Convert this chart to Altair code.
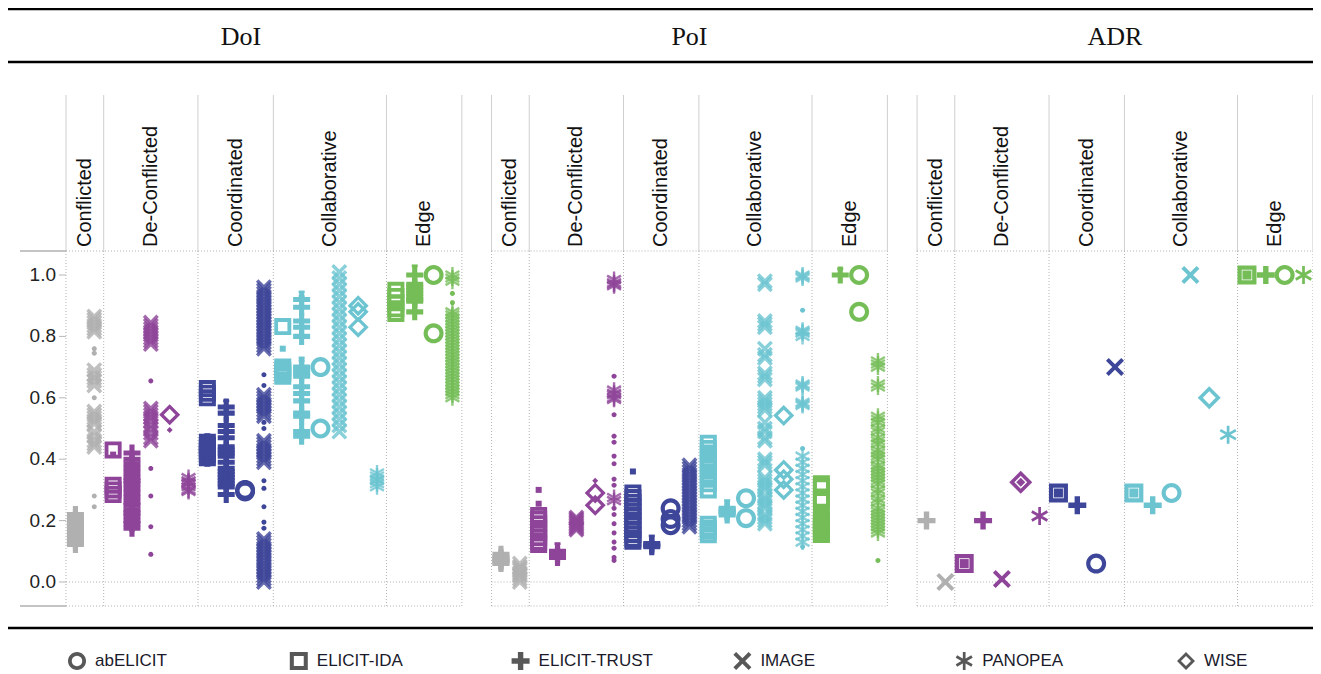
import math
import altair as alt
import pandas as pd

# ---------------- categories / methods ----------------
PANELS = ["DoI", "PoI", "ADR"]
CATEGORIES = ["Conflicted", "De-Conflicted", "Coordinated", "Collaborative", "Edge"]
CAT_METHODS = {
    "Conflicted": ["ELICIT-TRUST", "IMAGE"],
    "De-Conflicted": ["ELICIT-IDA", "ELICIT-TRUST", "IMAGE", "WISE", "PANOPEA"],
    "Coordinated": ["ELICIT-IDA", "ELICIT-TRUST", "abELICIT", "IMAGE"],
    "Collaborative": ["ELICIT-IDA", "ELICIT-TRUST", "abELICIT", "IMAGE", "WISE", "PANOPEA"],
    "Edge": ["ELICIT-IDA", "ELICIT-TRUST", "abELICIT", "PANOPEA"],
}
LEGEND_METHODS = ["abELICIT", "ELICIT-IDA", "ELICIT-TRUST", "IMAGE", "PANOPEA", "WISE"]
CAT_COLORS = ["#b0b0b0", "#8e4599", "#3e4699", "#6cc4d1", "#74bd57"]
Y_TICKS = [0.0, 0.2, 0.4, 0.6, 0.8, 1.0]

# ---------------- DoI values ----------------
DOI_CONFLICTED = {
    "ELICIT-TRUST": [0.22, 0.21, 0.20, 0.19, 0.18, 0.17, 0.16, 0.15, 0.14, 0.13, 0.122],
    "IMAGE": [0.865, 0.855, 0.845, 0.835, 0.825, 0.815, 0.69, 0.675, 0.665, 0.655, 0.64,
              0.555, 0.545, 0.535, 0.525, 0.515, 0.49, 0.475, 0.46, 0.45, 0.44],
}
DOI_CONFLICTED_SMALL = {"IMAGE": [0.76, 0.745, 0.60, 0.28, 0.245]}
DOI_DECONFLICTED = {
    "ELICIT-IDA": [0.43, 0.315, 0.30, 0.285],
    "ELICIT-TRUST": [0.42, 0.40, 0.385, 0.37, 0.355, 0.34, 0.33, 0.32, 0.305, 0.29, 0.275,
                     0.26, 0.25, 0.235, 0.225, 0.215, 0.20, 0.19, 0.175],
    "IMAGE": [0.845, 0.835, 0.825, 0.815, 0.805, 0.795, 0.785, 0.775, 0.565, 0.555, 0.545,
              0.535, 0.525, 0.51, 0.50, 0.485, 0.47, 0.46],
    "WISE": [0.545],
    "PANOPEA": [0.34, 0.33, 0.325, 0.32, 0.31, 0.30, 0.295],
}
DOI_DECONFLICTED_SMALL = {"ELICIT-IDA": [0.415], "IMAGE": [0.655, 0.37, 0.28, 0.18, 0.09],
                          "WISE": [0.495]}
DOI_COORDINATED = {
    "ELICIT-IDA": [0.63, 0.615, 0.60, 0.455, 0.445, 0.435, 0.425, 0.415, 0.405],
    "ELICIT-TRUST": [0.57, 0.55, 0.51, 0.49, 0.47, 0.44, 0.43, 0.42, 0.41, 0.39, 0.37, 0.36,
                     0.35, 0.34, 0.33, 0.32, 0.31, 0.285],
    "abELICIT": [0.30, 0.295],
    "IMAGE": [0.96, 0.95, 0.94, 0.93, 0.92, 0.91, 0.90, 0.89, 0.88, 0.87, 0.86, 0.85, 0.84,
              0.83, 0.82, 0.81, 0.80, 0.79, 0.78, 0.77, 0.76, 0.61, 0.60, 0.59, 0.58, 0.57,
              0.56, 0.55, 0.54, 0.46, 0.45, 0.44, 0.43, 0.42, 0.41, 0.40, 0.39, 0.14, 0.13,
              0.12, 0.11, 0.10, 0.09, 0.08, 0.07, 0.06, 0.05, 0.04, 0.03, 0.02, 0.01, 0.0],
}
DOI_COORDINATED_SMALL = {"ELICIT-IDA": [0.475, 0.385], "ELICIT-TRUST": [0.59],
                         "IMAGE": [0.675, 0.64, 0.52, 0.50, 0.33, 0.305, 0.245, 0.195, 0.175]}
DOI_COLLABORATIVE = {
    "ELICIT-IDA": [0.832, 0.70, 0.69, 0.68, 0.67],
    "ELICIT-TRUST": [0.92, 0.895, 0.85, 0.83, 0.80, 0.70, 0.69, 0.68, 0.67, 0.636, 0.614,
                     0.59, 0.55, 0.54, 0.49, 0.475],
    "abELICIT": [0.70, 0.50],
    "IMAGE": [1.01, 0.99, 0.97, 0.95, 0.93, 0.91, 0.89, 0.87, 0.85, 0.83, 0.81, 0.79, 0.77,
              0.75, 0.73, 0.71, 0.69, 0.67, 0.65, 0.63, 0.61, 0.59, 0.57, 0.55, 0.53, 0.51,
              0.49],
    "WISE": [0.90, 0.88, 0.83],
    "PANOPEA": [0.355, 0.345, 0.335, 0.33, 0.32, 0.31],
}
DOI_COLLABORATIVE_SMALL = {"ELICIT-IDA": [0.76], "ELICIT-TRUST": [0.945, 0.93, 0.73, 0.72]}
DOI_EDGE = {
    "ELICIT-IDA": [0.95, 0.93, 0.91, 0.89, 0.875],
    "ELICIT-TRUST": [1.0, 0.97, 0.96, 0.95, 0.94, 0.93, 0.92, 0.915, 0.88],
    "abELICIT": [1.0, 0.81],
    "PANOPEA": [1.0, 0.99, 0.98, 0.88, 0.87, 0.86, 0.85, 0.84, 0.83, 0.82, 0.81, 0.80, 0.79,
                0.78, 0.77, 0.76, 0.75, 0.74, 0.73, 0.72, 0.71, 0.70, 0.69, 0.68, 0.67, 0.66,
                0.65, 0.64, 0.63, 0.62, 0.61, 0.60],
}
DOI_EDGE_SMALL = {"ELICIT-TRUST": [1.03], "PANOPEA": [0.94, 0.91]}

# ---------------- PoI values ----------------
POI_CONFLICTED = {
    "ELICIT-TRUST": [0.09, 0.08, 0.075, 0.07, 0.065, 0.06],
    "IMAGE": [0.06, 0.05, 0.045, 0.04, 0.03, 0.025, 0.02, 0.01, 0.0],
}
POI_CONFLICTED_SMALL = {}
POI_DECONFLICTED = {
    "ELICIT-IDA": [0.217, 0.205, 0.19, 0.175, 0.16, 0.145, 0.13, 0.122],
    "ELICIT-TRUST": [0.10, 0.095, 0.09, 0.085, 0.08],
    "IMAGE": [0.21, 0.205, 0.20, 0.195, 0.19, 0.185, 0.18, 0.175, 0.17],
    "WISE": [0.29, 0.25],
    "PANOPEA": [0.985, 0.975, 0.97, 0.965, 0.625, 0.615, 0.61, 0.60, 0.595, 0.275, 0.265],
}
POI_DECONFLICTED_SMALL = {
    "ELICIT-IDA": [0.30, 0.255], "ELICIT-TRUST": [0.125], "WISE": [0.33],
    "PANOPEA": [0.67, 0.545, 0.475, 0.455, 0.41, 0.385, 0.335, 0.315, 0.24, 0.22, 0.19, 0.16,
                0.13, 0.11, 0.08, 0.07],
}
POI_COORDINATED = {
    "ELICIT-IDA": [0.29, 0.275, 0.26, 0.245, 0.23, 0.215, 0.20, 0.185, 0.17, 0.155, 0.14, 0.133],
    "ELICIT-TRUST": [0.125, 0.12, 0.115],
    "abELICIT": [0.24, 0.205, 0.185],
    "IMAGE": [0.38, 0.37, 0.36, 0.35, 0.34, 0.33, 0.32, 0.31, 0.30, 0.29, 0.28, 0.27, 0.26,
              0.25, 0.24, 0.23, 0.22, 0.21, 0.20, 0.19, 0.18],
}
POI_COORDINATED_SMALL = {"ELICIT-IDA": [0.36], "ELICIT-TRUST": [0.15]}
POI_COLLABORATIVE = {
    "ELICIT-IDA": [0.452, 0.435, 0.42, 0.40, 0.385, 0.37, 0.35, 0.335, 0.32, 0.30, 0.188,
                   0.175, 0.165, 0.154],
    "ELICIT-TRUST": [0.24, 0.235, 0.23, 0.225, 0.218],
    "abELICIT": [0.273, 0.208],
    "IMAGE": [0.98, 0.97, 0.85, 0.84, 0.83, 0.76, 0.74, 0.73, 0.68, 0.67, 0.66, 0.60, 0.59,
              0.58, 0.57, 0.56, 0.52, 0.50, 0.49, 0.47, 0.46, 0.40, 0.39, 0.38, 0.34, 0.33,
              0.32, 0.31, 0.30, 0.28, 0.27, 0.26, 0.25, 0.24, 0.22, 0.21, 0.20, 0.19],
    "WISE": [0.542, 0.365, 0.335, 0.30],
    "PANOPEA": [1.0, 0.995, 0.99, 0.82, 0.815, 0.81, 0.80, 0.645, 0.64, 0.635, 0.585, 0.58,
                0.575, 0.41, 0.39, 0.37, 0.35, 0.33, 0.31, 0.29, 0.27, 0.25, 0.23, 0.21,
                0.19, 0.17, 0.15, 0.13],
}
POI_COLLABORATIVE_SMALL = {"ELICIT-TRUST": [0.265], "PANOPEA": [0.885, 0.435, 0.115]}
POI_EDGE = {
    "ELICIT-IDA": [0.32, 0.31, 0.27, 0.265, 0.21, 0.20, 0.19, 0.18, 0.17, 0.16, 0.155],
    "ELICIT-TRUST": [1.0],
    "abELICIT": [1.0, 0.88],
    "PANOPEA": [0.72, 0.71, 0.70, 0.645, 0.635, 0.54, 0.53, 0.52, 0.50, 0.49, 0.47, 0.46,
                0.45, 0.43, 0.42, 0.41, 0.40, 0.38, 0.37, 0.36, 0.35, 0.34, 0.33, 0.32, 0.30,
                0.29, 0.27, 0.26, 0.24, 0.23, 0.22, 0.21, 0.20, 0.19, 0.18, 0.17, 0.16],
}
POI_EDGE_SMALL = {"ELICIT-TRUST": [1.02], "PANOPEA": [0.07]}

# ---------------- ADR values ----------------
ADR_CONFLICTED = {"ELICIT-TRUST": [0.20], "IMAGE": [0.0]}
ADR_CONFLICTED_SMALL = {}
ADR_DECONFLICTED = {"ELICIT-IDA": [0.06], "ELICIT-TRUST": [0.20], "IMAGE": [0.01],
                    "WISE": [0.325], "PANOPEA": [0.215]}
ADR_DECONFLICTED_SMALL = {"ELICIT-IDA": [0.06], "WISE": [0.325]}
ADR_COORDINATED = {"ELICIT-IDA": [0.29], "ELICIT-TRUST": [0.25], "abELICIT": [0.06],
                   "IMAGE": [0.70]}
ADR_COORDINATED_SMALL = {"ELICIT-IDA": [0.29]}
ADR_COLLABORATIVE = {"ELICIT-IDA": [0.29], "ELICIT-TRUST": [0.25], "abELICIT": [0.29],
                     "IMAGE": [1.0], "WISE": [0.60], "PANOPEA": [0.48]}
ADR_COLLABORATIVE_SMALL = {"ELICIT-IDA": [0.29]}
ADR_EDGE = {"ELICIT-IDA": [1.0], "ELICIT-TRUST": [1.0], "abELICIT": [1.0], "PANOPEA": [1.0]}
ADR_EDGE_SMALL = {"ELICIT-IDA": [1.0]}

CELLS = {
    "DoI": [DOI_CONFLICTED, DOI_DECONFLICTED, DOI_COORDINATED, DOI_COLLABORATIVE, DOI_EDGE],
    "PoI": [POI_CONFLICTED, POI_DECONFLICTED, POI_COORDINATED, POI_COLLABORATIVE, POI_EDGE],
    "ADR": [ADR_CONFLICTED, ADR_DECONFLICTED, ADR_COORDINATED, ADR_COLLABORATIVE, ADR_EDGE],
}
CELLS_SMALL = {
    "DoI": [DOI_CONFLICTED_SMALL, DOI_DECONFLICTED_SMALL, DOI_COORDINATED_SMALL,
            DOI_COLLABORATIVE_SMALL, DOI_EDGE_SMALL],
    "PoI": [POI_CONFLICTED_SMALL, POI_DECONFLICTED_SMALL, POI_COORDINATED_SMALL,
            POI_COLLABORATIVE_SMALL, POI_EDGE_SMALL],
    "ADR": [ADR_CONFLICTED_SMALL, ADR_DECONFLICTED_SMALL, ADR_COORDINATED_SMALL,
            ADR_COLLABORATIVE_SMALL, ADR_EDGE_SMALL],
}

# ---------------- layout / style ----------------
W, H = 1305, 664
SLOTS = sum(len(v) for v in CAT_METHODS.values())  # 21
GAP = 1.575
SLOT_PX = 18.85
X_MAX = 3 * SLOTS + 2 * GAP
XS = alt.Scale(domain=[0, X_MAX], range=[58, 58 + X_MAX * SLOT_PX], nice=False, zero=False)
Y_LO, Y_HI = -0.0782, 1.0782
YS = alt.Scale(domain=[Y_LO, Y_HI], range=[598, 243], nice=False, zero=False)

MAIN_PX = {"ELICIT-IDA": 17, "ELICIT-TRUST": 17, "abELICIT": 20, "IMAGE": 16, "WISE": 21,
           "PANOPEA": 16}
ADR_PX = {"ELICIT-IDA": 19, "ELICIT-TRUST": 18, "abELICIT": 20, "IMAGE": 18, "WISE": 23,
          "PANOPEA": 18}
SANS = "Liberation Sans"


def _poly(pts):
    return "M" + " L".join(f"{x:.3f},{y:.3f}" for x, y in pts) + " Z"


def _rot(pts, deg, k=1.0):
    a = math.radians(deg)
    c, s = math.cos(a), math.sin(a)
    return [(k * (x * c - y * s), k * (x * s + y * c)) for x, y in pts]


def _plus(w):
    return [(-w, -1), (w, -1), (w, -w), (1, -w), (1, w), (w, w), (w, 1), (-w, 1), (-w, w),
            (-1, w), (-1, -w), (-w, -w)]


def _circle(r, n=32, rev=False):
    pts = [(r * math.cos(2 * math.pi * i / n), r * math.sin(2 * math.pi * i / n)) for i in range(n)]
    return pts[::-1] if rev else pts


def _ring_square(a):
    return _poly([(-1, -1), (1, -1), (1, 1), (-1, 1)]) + " " + _poly([(-a, -a), (-a, a), (a, a), (a, -a)])


def _ring_diamond(a):
    return _poly([(0, -1), (1, 0), (0, 1), (-1, 0)]) + " " + _poly([(0, -a), (-a, 0), (0, a), (a, 0)])


def _ring_circle(a):
    return _poly(_circle(1)) + " " + _poly(_circle(a, rev=True))


PLUS = _poly(_plus(0.3))
XSHAPE = _poly(_rot(_plus(0.18), 45, 1 / (0.7071 * 1.18)))
BAR = [(-0.15, -1), (0.15, -1), (0.15, 1), (-0.15, 1)]
ASTER = " ".join(_poly(_rot(BAR, d)) for d in (0, 60, 120))
DOT = _poly(_circle(1, n=16))

SHAPES = {
    "abELICIT": _ring_circle(0.58),
    "ELICIT-IDA": _ring_square(0.55),
    "ELICIT-TRUST": PLUS,
    "IMAGE": XSHAPE,
    "PANOPEA": ASTER,
    "WISE": _ring_diamond(0.56),
}
SMALL_SHAPES = {
    "abELICIT": DOT,
    "ELICIT-IDA": _poly([(-1, -1), (1, -1), (1, 1), (-1, 1)]),
    "ELICIT-TRUST": _poly([(-1, -0.45), (1, -0.45), (1, 0.45), (-1, 0.45)]),
    "IMAGE": DOT,
    "PANOPEA": DOT,
    "WISE": _poly([(0, -1), (1, 0), (0, 1), (-1, 0)]),
}
SYM_DOMAIN = LEGEND_METHODS + [m + " (s)" for m in LEGEND_METHODS]
SYM_RANGE = [SHAPES[m] for m in LEGEND_METHODS] + [SMALL_SHAPES[m] for m in LEGEND_METHODS]
SHAPE_SCALE = alt.Scale(domain=SYM_DOMAIN, range=SYM_RANGE)
COLOR_SCALE = alt.Scale(domain=CATEGORIES, range=CAT_COLORS)

# ---------------- build tables ----------------
panel_off = {p: i * (SLOTS + GAP) for i, p in enumerate(PANELS)}
cat_off = {}
acc = 0
for c in CATEGORIES:
    cat_off[c] = acc
    acc += len(CAT_METHODS[c])

rows = []
for p in PANELS:
    for ci, cat in enumerate(CATEGORIES):
        for kind, table in (("main", CELLS[p][ci]), ("small", CELLS_SMALL[p][ci])):
            for m, vals in table.items():
                x = panel_off[p] + cat_off[cat] + CAT_METHODS[cat].index(m) + 0.5
                for v in vals:
                    if kind == "main":
                        px = (ADR_PX if p == "ADR" else MAIN_PX)[m]
                        op = 0.8 if (p != "ADR" and m in ("IMAGE", "PANOPEA")) else 1.0
                        sym = m
                    else:
                        if p == "ADR":
                            px = 9
                        elif m in ("IMAGE", "PANOPEA", "abELICIT"):
                            px = 5
                        else:
                            px = 6
                        op = 1.0
                        sym = m + " (s)"
                    rows.append({"panel": p, "category": cat, "method": m, "x": x, "v": v,
                                 "sym": sym, "sz": px * px, "op": op, "kind": kind})
pts = pd.DataFrame(rows)
pts["order"] = (pts["kind"] == "small").astype(int)

bounds = []
for p in PANELS:
    for c in CATEGORIES + ["_end"]:
        off = cat_off[c] if c in cat_off else SLOTS
        bounds.append({"bx": panel_off[p] + off})
bounds = pd.DataFrame(bounds)

hlines = pd.DataFrame([{"x0": panel_off[p], "x1": panel_off[p] + SLOTS, "v": v}
                       for p in PANELS for v in (Y_LO, 0.0, Y_HI)])
cat_labels = pd.DataFrame([{"cx": panel_off[p] + cat_off[c] + len(CAT_METHODS[c]) / 2, "text": c}
                           for p in PANELS for c in CATEGORIES])
titles = pd.DataFrame([{"tx": panel_off[p] + SLOTS / 2 - (1.22 if i == 0 else 0), "text": p}
                       for i, p in enumerate(PANELS)])
yt = pd.DataFrame({"v": Y_TICKS, "lab": [f"{t:.1f}" for t in Y_TICKS]})
yedge = pd.DataFrame({"v": [Y_LO, Y_HI]})
leg = pd.DataFrame({"sym": LEGEND_METHODS, "li": list(range(len(LEGEND_METHODS))),
                    "label": LEGEND_METHODS})

one = pd.DataFrame({"k": [0]})
XN = dict(scale=XS, axis=None)
YN = dict(scale=YS, axis=None)

header_rules = alt.Chart(bounds).mark_rule(color="#cfcfcf", strokeWidth=1).encode(
    x=alt.X("bx:Q", **XN), y=alt.value(87), y2=alt.value(243))
grid_v = alt.Chart(bounds).mark_rule(color="#b3b3b3", strokeWidth=1, strokeDash=[1, 2]).encode(
    x=alt.X("bx:Q", **XN), y=alt.value(243), y2=alt.value(598))
grid_h = alt.Chart(hlines).mark_rule(color="#b3b3b3", strokeWidth=1, strokeDash=[1, 2]).encode(
    x=alt.X("x0:Q", **XN), x2="x1:Q", y=alt.Y("v:Q", **YN))
axis_edges = alt.Chart(yedge).mark_rule(color="#b0b0b0", strokeWidth=1.5).encode(
    x=alt.value(12), x2=alt.value(58), y=alt.Y("v:Q", **YN))
ticks = alt.Chart(yt).mark_rule(color="#b8b8b8", strokeWidth=1).encode(
    x=alt.value(51), x2=alt.value(58), y=alt.Y("v:Q", **YN))
tick_labels = alt.Chart(yt).mark_text(align="right", baseline="middle", font=SANS,
                                      fontSize=19, color="#222222").encode(
    x=alt.value(48), y=alt.Y("v:Q", **YN), text="lab:N")
cat_text = alt.Chart(cat_labels).mark_text(angle=270, align="left", baseline="middle",
                                           font=SANS, fontSize=20, color="#111111").encode(
    x=alt.X("cx:Q", **XN), y=alt.value(239), text="text:N")
title_text = alt.Chart(titles).mark_text(baseline="middle", font="Liberation Serif",
                                         fontSize=26, color="#111111").encode(
    x=alt.X("tx:Q", **XN), y=alt.value(29), text="text:N")
line_top = alt.Chart(one).mark_rule(color="#000000", strokeWidth=2.5).encode(
    x=alt.value(0), x2=alt.value(W), y=alt.value(1))
line_mid = alt.Chart(one).mark_rule(color="#000000", strokeWidth=2.5).encode(
    x=alt.value(0), x2=alt.value(W), y=alt.value(54))
line_bot = alt.Chart(one).mark_rule(color="#000000", strokeWidth=2.5).encode(
    x=alt.value(0), x2=alt.value(W), y=alt.value(620))

points = alt.Chart(pts).mark_point(filled=True, strokeWidth=0).encode(
    x=alt.X("x:Q", **XN),
    y=alt.Y("v:Q", **YN),
    shape=alt.Shape("sym:N", scale=SHAPE_SCALE, legend=None),
    color=alt.Color("category:N", scale=COLOR_SCALE, legend=None),
    size=alt.Size("sz:Q", scale=None),
    opacity=alt.Opacity("op:Q", scale=None),
    order=alt.Order("order:Q"),
)

main = alt.layer(line_top, line_mid, line_bot, header_rules, grid_v, grid_h, axis_edges,
                 ticks, tick_labels, cat_text, title_text, points)

LS = alt.Scale(domain=[0, len(LEGEND_METHODS) - 1], range=[69, 1178], nice=False, zero=False)
leg_pts = alt.Chart(leg).mark_point(filled=True, strokeWidth=0, color="#111111").encode(
    x=alt.X("li:Q", scale=LS, axis=None), y=alt.value(653),
    shape=alt.Shape("sym:N", scale=SHAPE_SCALE, legend=None), size=alt.value(324))
leg_txt = alt.Chart(leg).mark_text(align="left", baseline="middle", dx=18, font=SANS,
                                   fontSize=17, color="#1a1a2a").encode(
    x=alt.X("li:Q", scale=LS, axis=None), y=alt.value(653), text="label:N")

chart = alt.layer(main, leg_pts, leg_txt).resolve_scale(x="independent").properties(
    width=W, height=H, padding=0, autosize=alt.AutoSizeParams(type="none"),
    background="white",
).configure_view(stroke=None)

chart.save("out.html", embed_options={"renderer": "svg", "actions": False})
